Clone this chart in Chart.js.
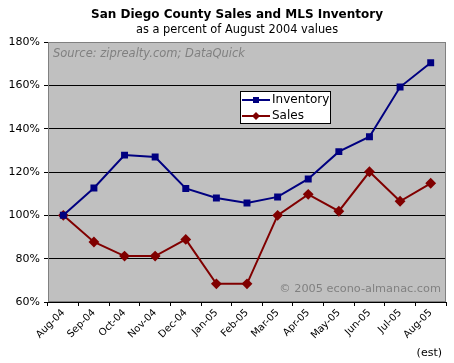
<!DOCTYPE html>
<html>
<head>
<meta charset="utf-8">
<script src="https://cdn.jsdelivr.net/npm/chart.js@4/dist/chart.umd.min.js"></script>
<style>
  html, body { margin: 0; padding: 0; background: #fff; }
  #wrap { width: 454px; height: 363px; }
</style>
</head>
<body>
<div id="wrap"><canvas id="chart" width="454" height="363"></canvas></div>
<script>
const months = ["Aug-04", "Sep-04", "Oct-04", "Nov-04", "Dec-04", "Jan-05", "Feb-05",
  "Mar-05", "Apr-05", "May-05", "Jun-05", "Jul-05", "Aug-05"];
const inventory = [100, 112.6, 127.8, 126.9, 112.4, 108, 105.7, 108.5, 116.8, 129.4, 136.3, 159.2, 170.4];
const sales = [100, 87.7, 81.2, 81.2, 88.9, 68.4, 68.4, 100, 109.7, 101.9, 120.1, 106.5, 114.8];
const yTicks = [60, 80, 100, 120, 140, 160, 180];

const font = "DejaVu Sans, Verdana, sans-serif";
const navy = "#000080";
const maroon = "#800000";

// plot background, titles and notes
const decor = {
  id: "decor",
  beforeDraw(chart) {
    const { ctx, chartArea: a } = chart;
    ctx.save();
    ctx.fillStyle = "#c0c0c0";
    ctx.fillRect(a.left, a.top, a.right - a.left, a.bottom - a.top);
    ctx.restore();
  },
  afterDraw(chart) {
    const { ctx, chartArea: a } = chart;
    ctx.save();
    ctx.strokeStyle = "#808080";
    ctx.lineWidth = 1;
    ctx.strokeRect(a.left + 0.5, a.top + 0.5, a.right - a.left - 1, a.bottom - a.top - 1);

    ctx.fillStyle = "#000";
    ctx.textAlign = "center";
    ctx.textBaseline = "middle";
    ctx.font = "bold 12px " + font;
    ctx.fillText("San Diego County Sales and MLS Inventory", 237, 15);
    ctx.font = "11.4px " + font;
    ctx.fillText("as a percent of August 2004 values", 237, 30);

    ctx.fillStyle = "#808080";
    ctx.textAlign = "left";
    ctx.font = "italic 11.5px " + font;
    ctx.fillText("Source: ziprealty.com; DataQuick", a.left + 5, a.top + 12);
    ctx.textAlign = "right";
    ctx.font = "11.3px " + font;
    ctx.fillText("\u00a9 2005 econo-almanac.com", a.right - 5, a.bottom - 13);

    ctx.fillStyle = "#000";
    ctx.font = "11px " + font;
    ctx.fillText("(est)", 442, 353);

    // legend box
    const lx = 240, ly = 91, lw = 91, lh = 33;
    ctx.fillStyle = "#fff";
    ctx.fillRect(lx, ly, lw, lh);
    ctx.strokeStyle = "#000";
    ctx.strokeRect(lx + 0.5, ly + 0.5, lw - 1, lh - 1);
    chart.data.datasets.forEach((ds, i) => {
      const y = ly + 9 + i * 16;
      ctx.strokeStyle = ds.borderColor;
      ctx.lineWidth = 2;
      ctx.beginPath();
      ctx.moveTo(lx + 2, y);
      ctx.lineTo(lx + 30, y);
      ctx.stroke();
      ctx.fillStyle = ds.borderColor;
      ctx.beginPath();
      if (i === 0) {
        ctx.rect(lx + 13, y - 3, 6, 6);
      } else {
        ctx.moveTo(lx + 16, y - 4);
        ctx.lineTo(lx + 20, y);
        ctx.lineTo(lx + 16, y + 4);
        ctx.lineTo(lx + 12, y);
        ctx.closePath();
      }
      ctx.fill();
      ctx.fillStyle = "#000";
      ctx.textAlign = "left";
      ctx.font = "12px " + font;
      ctx.fillText(ds.label, lx + 32, y);
    });
    ctx.restore();
  }
};

new Chart(document.getElementById("chart"), {
  type: "line",
  data: {
    labels: months,
    datasets: [
      {
        label: "Inventory",
        data: inventory,
        borderColor: navy,
        backgroundColor: navy,
        borderWidth: 2,
        pointStyle: "rect",
        pointRadius: 3.5,
        tension: 0,
      },
      {
        label: "Sales",
        data: sales,
        borderColor: maroon,
        backgroundColor: maroon,
        borderWidth: 2,
        pointStyle: "rectRot",
        pointRadius: 4,
        tension: 0,
      },
    ],
  },
  options: {
    responsive: false,
    animation: false,
    layout: { padding: { top: 42, right: 8, left: 0, bottom: 0 } },
    plugins: {
      legend: { display: false },
      title: { display: false },
      tooltip: { enabled: false },
    },
    scales: {
      x: {
        offset: true,
        grid: { offset: true, drawOnChartArea: false, color: "#000", tickLength: 4 },
        border: { display: false },
        ticks: {
          color: "#000",
          font: { family: font, size: 10 },
          minRotation: 45,
          maxRotation: 45,
          autoSkip: false,
          padding: 1,
        },
        afterFit(scale) { scale.height = 61; },
      },
      y: {
        min: 60,
        max: 180,
        afterBuildTicks(scale) { scale.ticks = yTicks.map(v => ({ value: v })); },
        grid: { color: "#000", tickLength: 4 },
        border: { display: false },
        ticks: {
          color: "#000",
          font: { family: font, size: 11 },
          padding: 4,
          callback: v => v + "%",
        },
        afterFit(scale) { scale.width = 48; },
      },
    },
  },
  plugins: [decor],
});
</script>
</body>
</html>
